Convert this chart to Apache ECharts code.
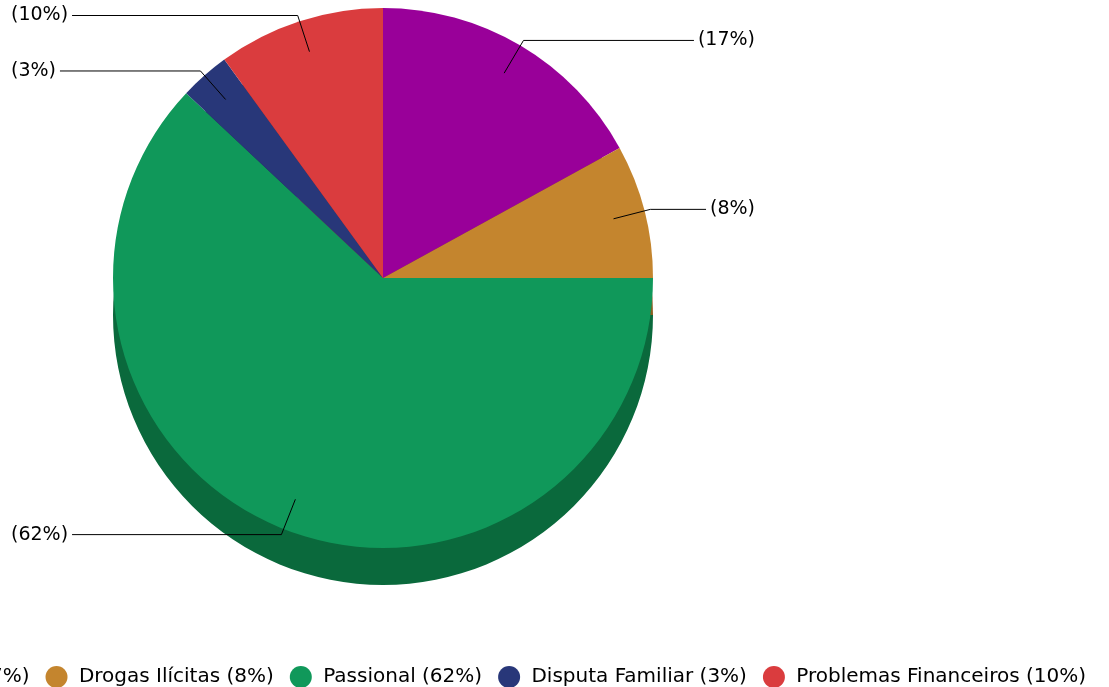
<!DOCTYPE html>
<html>
<head>
<meta charset="utf-8">
<script src="https://cdn.jsdelivr.net/npm/echarts@6/dist/echarts.min.js"></script>
<style>
  html, body { margin: 0; padding: 0; background: #fff; }
  #chart { width: 1109px; height: 687px; }
</style>
</head>
<body>
<div id="chart"></div>
<script>
// motivos e percentuais
const categories = ["Vingança", "Drogas Ilícitas", "Passional", "Disputa Familiar", "Problemas Financeiros"];
const values = [17, 8, 62, 3, 10];
const colors = ["#990099", "#c4852e", "#10985a", "#283779", "#da3c3e"];
const sideColors = ["#6b006b", "#8a5d20", "#0a693c", "#1c2755", "#99292b"];

const font = "DejaVu Sans";
const total = values.reduce((a, b) => a + b, 0);
const pct = (v) => Math.round((v / total) * 100);

const box = { left: 0, top: 0, width: 766, height: 687 };
const center = [383, 278];
const radius = 270;
const depth = 37;

function items(palette) {
  return categories.map((name, i) => ({
    name,
    value: values[i],
    itemStyle: { color: palette ? palette[i] : "transparent" },
  }));
}

const chart = echarts.init(document.getElementById("chart"));
chart.setOption({
  animation: false,
  legend: {
    data: categories,
    right: 18,
    top: 661,
    width: 3000,
    icon: "circle",
    itemWidth: 22,
    itemHeight: 22,
    itemGap: 16,
    textStyle: { fontFamily: font, fontSize: 20, color: "#000" },
    // espaço extra entre o círculo e o texto
    formatter: (name) => " " + name + " (" + pct(values[categories.indexOf(name)]) + "%)",
  },
  series: [
    {
      // face de cima
      name: "top",
      type: "pie",
      ...box,
      z: 3,
      center,
      radius,
      startAngle: 90,
      silent: true,
      label: { show: false },
      labelLine: { show: false },
      itemStyle: { borderWidth: 0 },
      data: items(colors),
    },
    {
      // lateral (profundidade)
      name: "side",
      type: "pie",
      ...box,
      z: 1,
      center: [center[0], center[1] + depth],
      radius,
      startAngle: 90,
      silent: true,
      label: { show: false },
      labelLine: { show: false },
      itemStyle: { borderWidth: 0 },
      data: items(sideColors),
    },
    {
      // só rótulos, linhas começam dentro da fatia
      name: "labels",
      type: "pie",
      ...box,
      z: 4,
      center,
      radius: 238,
      startAngle: 90,
      silent: true,
      itemStyle: { borderWidth: 0 },
      label: {
        show: true,
        formatter: (p) => "(" + pct(p.value) + "%)",
        fontFamily: font,
        fontSize: 19,
        color: "#000",
        alignTo: "edge",
        edgeDistance: 11,
        distanceToLabelLine: 4,
      },
      labelLine: {
        show: true,
        length: 38,
        length2: 20,
        lineStyle: { color: "#000", width: 1 },
      },
      data: items(null),
    },
  ],
});
</script>
</body>
</html>
